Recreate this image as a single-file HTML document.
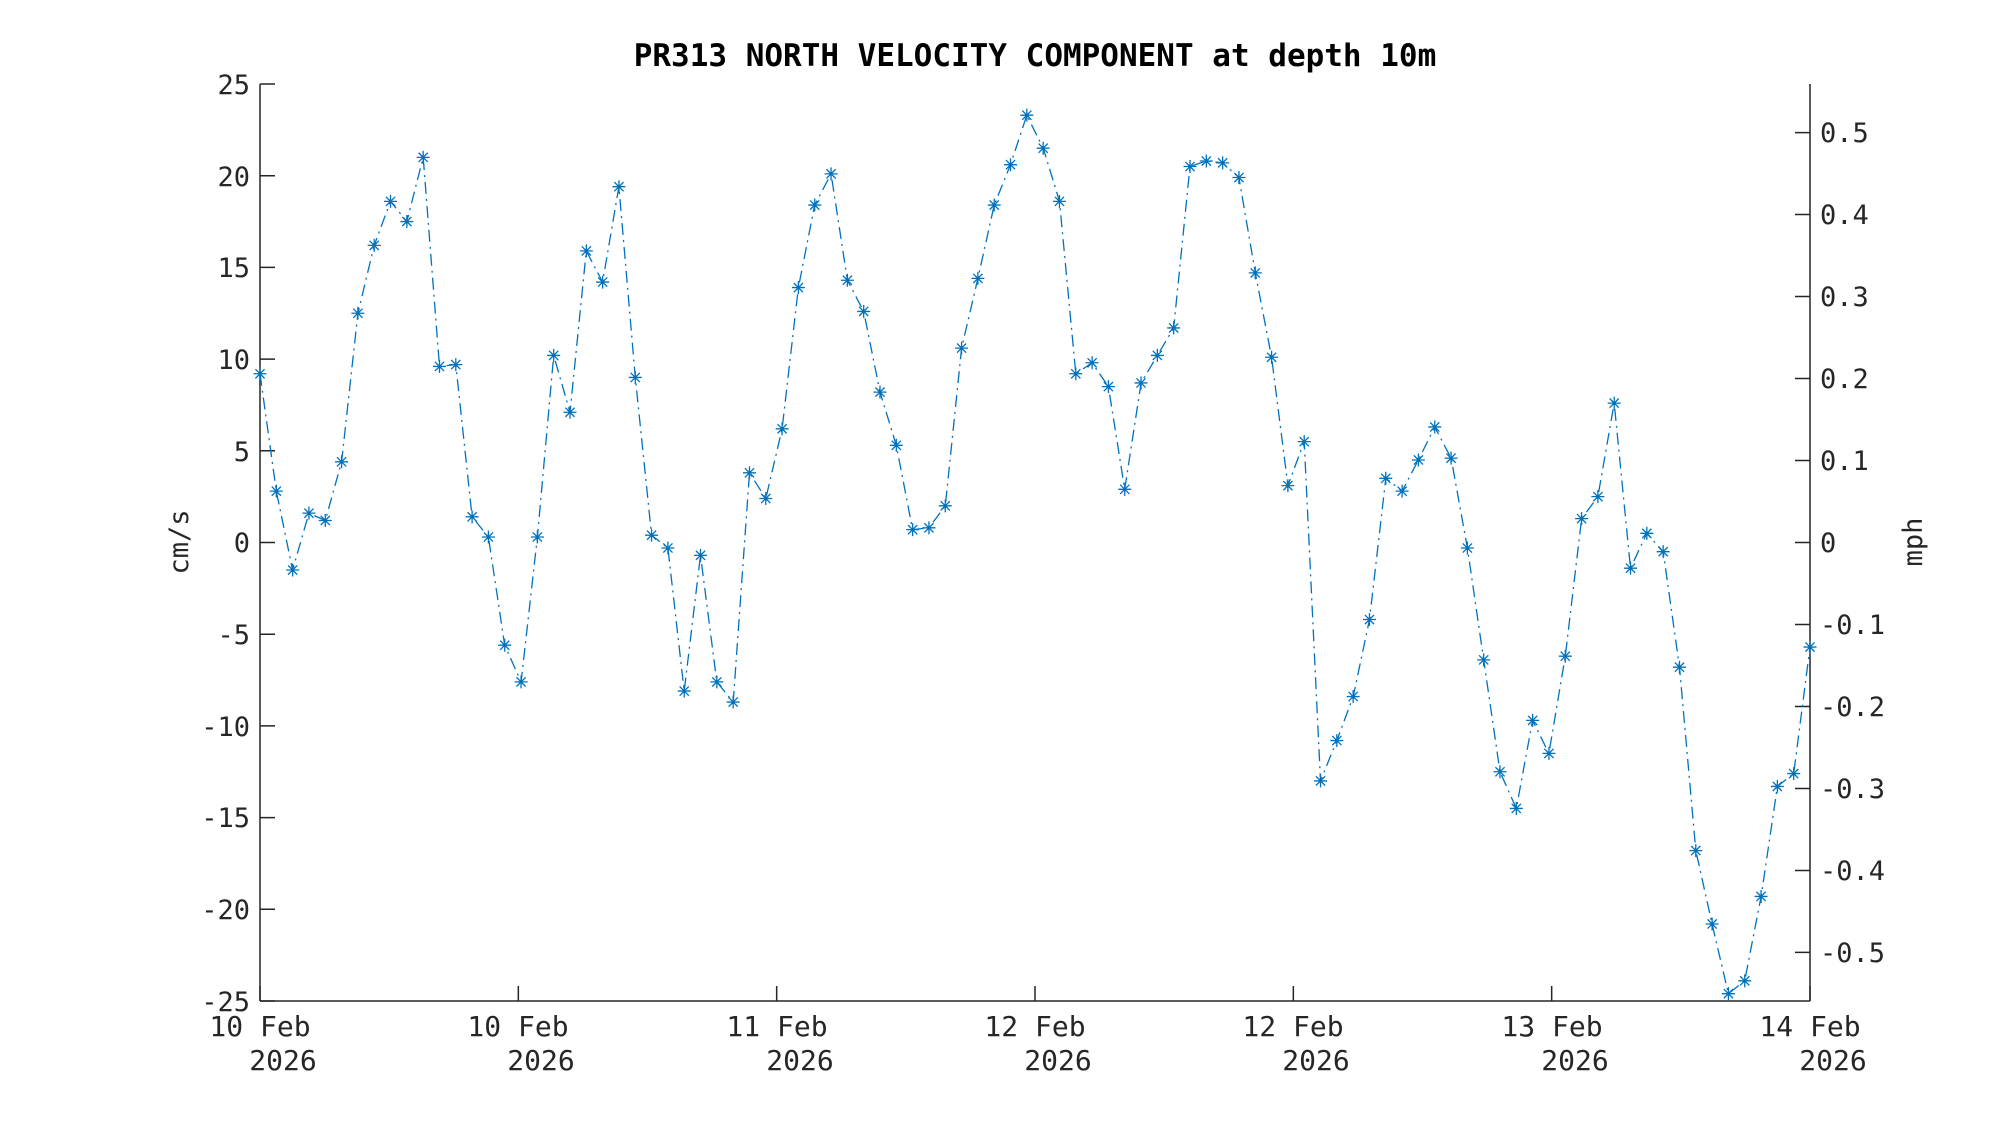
<!DOCTYPE html>
<html><head><style>
html,body{margin:0;padding:0;background:#fff;}
svg{display:block;font-family:"DejaVu Sans Mono","Liberation Mono",monospace;}
.t{font-size:27px;fill:#262626;}
.x{font-size:28px;fill:#262626;}
</style></head><body>
<svg id="s" width="2000" height="1125" viewBox="0 0 2000 1125" xmlns="http://www.w3.org/2000/svg">
<rect width="2000" height="1125" fill="#fff"/>
<text x="1035" y="66" text-anchor="middle" font-size="31" font-weight="bold" fill="#000">PR313 NORTH VELOCITY COMPONENT at depth 10m</text>
<g id="axes" stroke="#262626" stroke-width="1.5" fill="none">
<line x1="260" y1="84" x2="260" y2="1001"/>
<line x1="260" y1="1001" x2="1810" y2="1001"/>
<line x1="1810" y1="84" x2="1810" y2="1001"/>
</g>
<g id="ticks" stroke="#262626" stroke-width="1.5"></g>
<g class="t" text-anchor="end">
<text x="250" y="94">25</text>
<text x="250" y="186">20</text>
<text x="250" y="277">15</text>
<text x="250" y="369">10</text>
<text x="250" y="461">5</text>
<text x="250" y="552">0</text>
<text x="250" y="644">-5</text>
<text x="250" y="736">-10</text>
<text x="250" y="827">-15</text>
<text x="250" y="919">-20</text>
<text x="250" y="1011">-25</text>
</g>
<g class="t" text-anchor="start">
<text x="1820" y="142">0.5</text>
<text x="1820" y="224">0.4</text>
<text x="1820" y="306">0.3</text>
<text x="1820" y="388">0.2</text>
<text x="1820" y="470">0.1</text>
<text x="1820" y="552">0</text>
<text x="1820" y="634">-0.1</text>
<text x="1820" y="716">-0.2</text>
<text x="1820" y="798">-0.3</text>
<text x="1820" y="880">-0.4</text>
<text x="1820" y="962">-0.5</text>
</g>
<g class="x" text-anchor="middle">
<text x="260" y="1036">10 Feb</text><text x="283" y="1070">2026</text>
<text x="518" y="1036">10 Feb</text><text x="541" y="1070">2026</text>
<text x="777" y="1036">11 Feb</text><text x="800" y="1070">2026</text>
<text x="1035" y="1036">12 Feb</text><text x="1058" y="1070">2026</text>
<text x="1293" y="1036">12 Feb</text><text x="1316" y="1070">2026</text>
<text x="1552" y="1036">13 Feb</text><text x="1575" y="1070">2026</text>
<text x="1810" y="1036">14 Feb</text><text x="1833" y="1070">2026</text>
</g>
<text class="t" transform="translate(188,542) rotate(-90)" text-anchor="middle" font-size="30">cm/s</text>
<text class="t" transform="translate(1922,542) rotate(-90)" text-anchor="middle" font-size="30">mph</text>
<g id="data"></g>
</svg>
<script>
var v=[9.2,2.8,-1.5,1.6,1.2,4.4,12.5,16.2,18.6,17.5,21.0,9.6,9.7,1.4,0.3,-5.6,-7.6,0.3,10.2,7.1,15.9,14.2,19.4,9.0,0.4,-0.3,-8.1,-0.7,-7.6,-8.7,3.8,2.4,6.2,13.9,18.4,20.1,14.3,12.6,8.2,5.3,0.7,0.8,2.0,10.6,14.4,18.4,20.6,23.3,21.5,18.6,9.2,9.8,8.5,2.9,8.7,10.2,11.7,20.5,20.8,20.7,19.9,14.7,10.1,3.1,5.5,-13.0,-10.8,-8.4,-4.2,3.5,2.8,4.5,6.3,4.6,-0.3,-6.4,-12.5,-14.5,-9.7,-11.5,-6.2,1.3,2.5,7.6,-1.4,0.5,-0.5,-6.8,-16.8,-20.8,-24.6,-23.9,-19.3,-13.3,-12.6,-5.7];
var NS="http://www.w3.org/2000/svg";
function Y(c){return 542.5-c*18.34;}
var n=v.length,pts=[],g=document.getElementById('data'),s='';
for(var i=0;i<n;i++){var x=260+1550*i/(n-1),y=Y(v[i]);pts.push(x.toFixed(1)+','+y.toFixed(1));
var r=6.5,d=r*0.707;
s+='M'+(x-r)+' '+y+'H'+(x+r)+'M'+x+' '+(y-r)+'V'+(y+r)+'M'+(x-d)+' '+(y-d)+'L'+(x+d)+' '+(y+d)+'M'+(x-d)+' '+(y+d)+'L'+(x+d)+' '+(y-d);}
var pl=document.createElementNS(NS,'polyline');pl.setAttribute('points',pts.join(' '));
pl.setAttribute('fill','none');pl.setAttribute('stroke','#0072BD');pl.setAttribute('stroke-width','1.3');pl.setAttribute('stroke-dasharray','12 5 2 5');g.appendChild(pl);
var mk=document.createElementNS(NS,'path');mk.setAttribute('d',s);mk.setAttribute('stroke','#0072BD');mk.setAttribute('stroke-width','1.3');mk.setAttribute('fill','none');g.appendChild(mk);
var t=document.getElementById('ticks'),ts='';
for(var c=-25;c<=25;c+=5){var y=Y(c);ts+='M260 '+y+'H275';}
for(var m=-0.5;m<=0.51;m+=0.1){var y=Y(m*44.704);ts+='M1810 '+y+'H1795';}
for(var k=0;k<7;k++){var x=260+1550*k/6;ts+='M'+x+' 1001V986';}
var tp=document.createElementNS(NS,'path');tp.setAttribute('d',ts);tp.setAttribute('fill','none');t.appendChild(tp);
</script>
</body></html>
